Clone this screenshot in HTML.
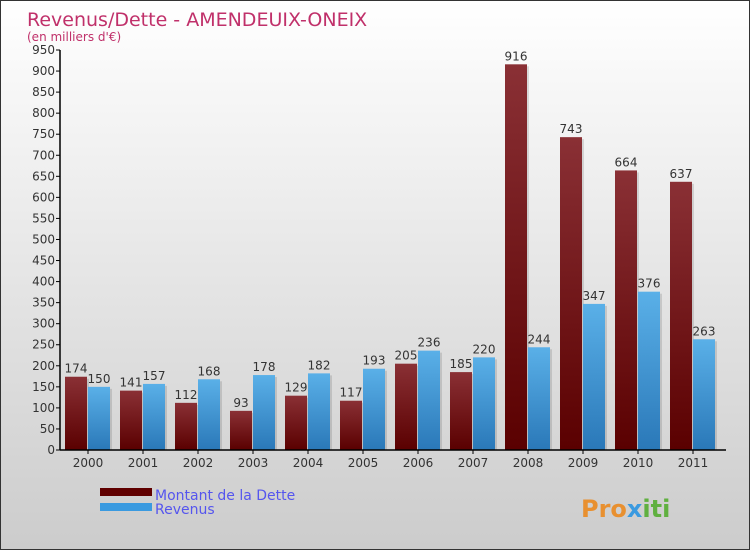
<!DOCTYPE html>
<html><head><meta charset="utf-8"><style>
body{margin:0}
#c{width:748px;height:548px;border:1px solid #333;background:linear-gradient(#fff,#ccc);position:relative;font-family:"DejaVu Sans","Liberation Sans",sans-serif;overflow:hidden}
</style></head><body>
<div id="c">
<svg width="748" height="548" id="s">
<defs>
<linearGradient id="gd" x1="0" y1="0" x2="0" y2="1"><stop offset="0" stop-color="#8a3035"/><stop offset="1" stop-color="#5a0000"/></linearGradient>
<linearGradient id="gr" x1="0" y1="0" x2="0" y2="1"><stop offset="0" stop-color="#5ab0e8"/><stop offset="1" stop-color="#2a78b8"/></linearGradient>
</defs>
<text x="26" y="25" font-size="19" fill="#c0306a">Revenus/Dette - AMENDEUIX-ONEIX</text>
<text x="26" y="40" font-size="12" fill="#c0306a">(en milliers d'€)</text>
<g id="plot"></g>
<rect x="99" y="487" width="52" height="8" fill="#600000"/>
<rect x="99" y="502" width="52" height="8" fill="#3a9ae0"/>
<text x="154" y="499" font-size="14" fill="#5555ee">Montant de la Dette</text>
<text x="154" y="513" font-size="14" fill="#5555ee">Revenus</text>
<text x="580" y="516" font-size="24" font-weight="bold" fill="#e89030">Pro<tspan fill="#3a9ae0">x</tspan><tspan fill="#60b040">iti</tspan></text>
</svg></div>
<script>
const years=["2000","2001","2002","2003","2004","2005","2006","2007","2008","2009","2010","2011"];
const dette=[174,141,112,93,129,117,205,185,916,743,664,637];
const revenus=[150,157,168,178,182,193,236,220,244,347,376,263];
const yTicks=[0,50,100,150,200,250,300,350,400,450,500,550,600,650,700,750,800,850,900,950];
const NS="http://www.w3.org/2000/svg",g=document.getElementById('plot');
const y0=449,yMax=950,ph=400,x0=59;
const y=v=>y0-v/yMax*ph, gx=i=>64+i*55;
function mk(t,a,txt){const e=document.createElementNS(NS,t);for(const k in a)e.setAttribute(k,a[k]);if(txt!=null)e.textContent=txt;g.appendChild(e);return e;}
yTicks.forEach(v=>{
 const l=mk('line',{x1:x0-4,x2:x0,y1:y(v),y2:y(v),stroke:'#000'});
 
 
 const t=mk('text',{x:x0-5,y:y(v)+4,'font-size':12,'text-anchor':'end',fill:'#333'},v);
 
 
});
years.forEach((yr,i)=>{
 const x=gx(i);
 [[dette[i],'url(#gd)',x,'bar-dette'],[revenus[i],'url(#gr)',x+23,'bar-revenus']].forEach(([v,f,bx,n])=>{
  const s=mk('rect',{x:bx+2,y:y(v)+2,width:22,height:y0-y(v)-2,fill:'#000',opacity:0.12});
  
  
  const r=mk('rect',{x:bx,y:y(v),width:22,height:y0-y(v),fill:f});
  
  
  const t=mk('text',{x:bx+11,y:y(v)-4,'font-size':12,'text-anchor':'middle',fill:'#333'},v);
  
  
 });
 const tk=mk('line',{x1:x+23,x2:x+23,y1:y0,y2:y0+4,stroke:'#000'});
 
 
 const t=mk('text',{x:x+23,y:y0+17,'font-size':12,'text-anchor':'middle',fill:'#333'},yr);
 
 
});
const ya=mk('line',{x1:x0,x2:x0,y1:y(950),y2:y0,stroke:'#000','stroke-width':1.5});


const xa=mk('line',{x1:x0,x2:gx(11)+56,y1:y0,y2:y0,stroke:'#000','stroke-width':1.5});


</script>
</body></html>
